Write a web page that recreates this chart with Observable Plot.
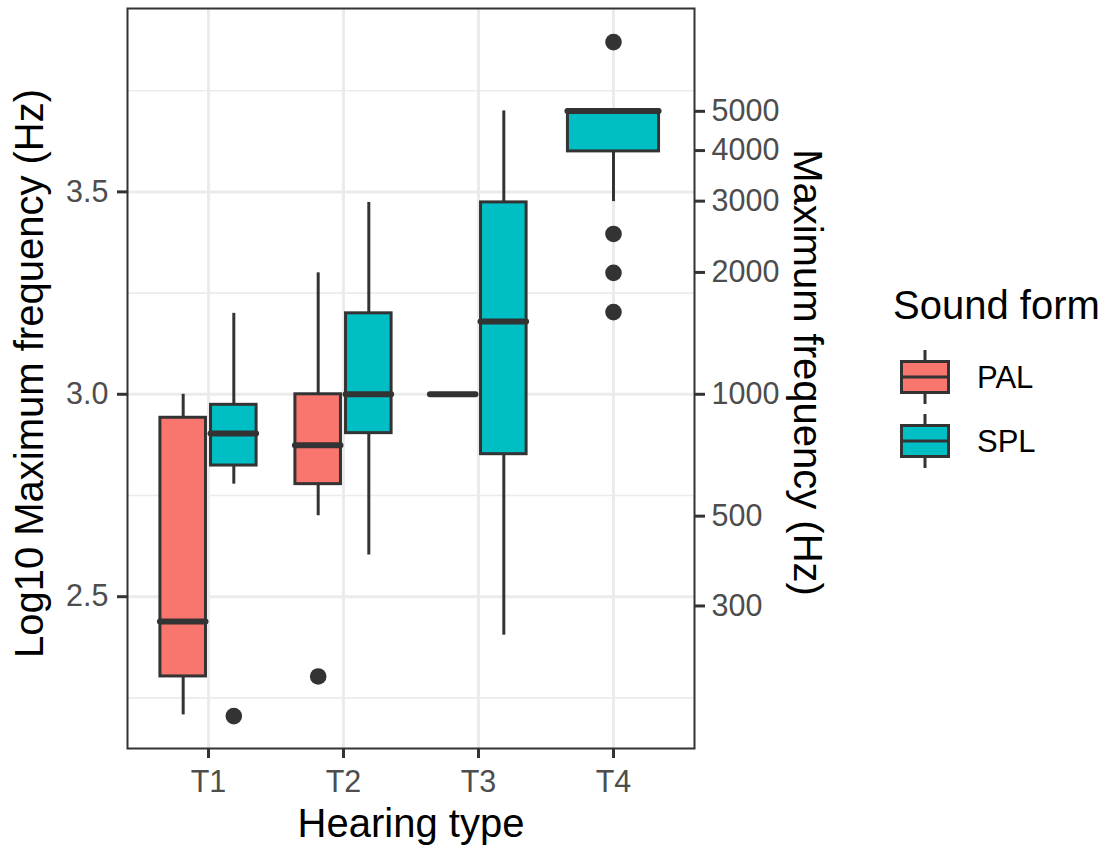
<!DOCTYPE html>
<html><head><meta charset="utf-8">
<script src="https://cdn.jsdelivr.net/npm/d3@7"></script>
<script src="https://cdn.jsdelivr.net/npm/@observablehq/plot@0.6"></script>
<style>
body{margin:0;background:#fff;}
#wrap{position:relative;width:1109px;height:852px;font-family:"Liberation Sans",Arial,Helvetica,sans-serif;}
#wrap svg.legend{position:absolute;left:0;top:0;pointer-events:none;}
</style></head><body><div id="wrap"></div>
<script>
// ---- data ----
const categories = ["T1","T2","T3","T4"];
const soundForms = ["PAL","SPL"];
const formColors = ["#F8766D","#00BFC4"];
const boxType = ["T1","T1","T2","T2","T3","T3","T4"];
const boxForm = ["PAL","SPL","PAL","SPL","PAL","SPL","SPL"];
const whiskerLow  = [2.208,2.778,2.700,2.603,3.000,2.405,3.476];
const q1          = [2.303,2.824,2.778,2.904,3.000,2.852,3.600];
const median      = [2.439,2.903,2.874,3.000,3.000,3.180,3.700];
const q3          = [2.942,2.974,3.000,3.200,3.000,3.474,3.700];
const whiskerHigh = [3.000,3.200,3.300,3.474,3.000,3.700,3.700];
const outlierType  = ["T1","T2","T4","T4","T4","T4"];
const outlierForm  = ["SPL","PAL","SPL","SPL","SPL","SPL"];
const outlierValue = [2.205,2.303,3.870,3.396,3.300,3.203];
const leftTicks  = [2.5,3.0,3.5];
const minorTicks = [2.25,2.75,3.25,3.75];
const rightTicks = [300,500,1000,2000,3000,4000,5000];
const xTitle = "Hearing type";
const yTitle = "Log10 Maximum frequency (Hz)";
const y2Title = "Maximum frequency (Hz)";
const legendTitle = "Sound form";

// ---- dodge layout (ggplot-like) ----
const dodgeTotal = 0.75, dodgePad = 0.1;
function place(type, form) {
  const present = soundForms.filter(f => boxType.some((t, i) => t === type && boxForm[i] === f));
  const slot = dodgeTotal / present.length;
  const k = present.indexOf(form);
  const center = categories.indexOf(type) + 1 - dodgeTotal / 2 + slot * (k + 0.5);
  return {center, half: slot * (1 - dodgePad) / 2};
}
const boxes = boxType.map((t, i) => {
  const p = place(t, boxForm[i]);
  return {type: t, form: boxForm[i], center: p.center, x1: p.center - p.half, x2: p.center + p.half,
    lo: whiskerLow[i], q1: q1[i], med: median[i], q3: q3[i], hi: whiskerHigh[i]};
});
const outliers = outlierType.map((t, i) => ({type: t, form: outlierForm[i], center: place(t, outlierForm[i]).center, value: outlierValue[i]}));

const dark = "#333333", tickText = "#4D4D4D", grid = "#EBEBEB";
const font = "Liberation Sans, Arial, Helvetica, sans-serif";
const lw = 3;

const plot = Plot.plot({
  width: 1109, height: 852,
  marginLeft: 127, marginRight: 415, marginTop: 8, marginBottom: 104,
  style: {fontFamily: font, background: "transparent", color: "black"},
  x: {type: "linear", domain: [0.4, 4.6], axis: null},
  y: {domain: [2.125, 3.953], axis: null},
  color: {domain: soundForms, range: formColors},
  marks: [
    Plot.gridY(minorTicks, {stroke: grid, strokeOpacity: 1, strokeWidth: 1.6}),
    Plot.gridY(leftTicks, {stroke: grid, strokeOpacity: 1, strokeWidth: 3}),
    Plot.gridX(categories.map((c, i) => i + 1), {stroke: grid, strokeOpacity: 1, strokeWidth: 3}),
    Plot.ruleX(boxes, {x: "center", y1: "lo", y2: "q1", stroke: dark, strokeWidth: lw}),
    Plot.ruleX(boxes, {x: "center", y1: "q3", y2: "hi", stroke: dark, strokeWidth: lw}),
    Plot.rect(boxes, {x1: "x1", x2: "x2", y1: "q1", y2: "q3", fill: "form", stroke: dark, strokeWidth: lw}),
    Plot.ruleY(boxes, {y: "med", x1: "x1", x2: "x2", stroke: dark, strokeWidth: 6, strokeLinecap: "round"}),
    Plot.dot(outliers, {x: "center", y: "value", r: 8.3, fill: dark, stroke: null}),
    Plot.frame({stroke: dark, strokeWidth: 2}),
    Plot.axisY(leftTicks, {anchor: "left", tickSize: 10, tickPadding: 9, tickFormat: d3.format(".1f"),
      fontSize: 30.5, stroke: dark, strokeWidth: lw, color: tickText, label: null}),
    Plot.axisY(rightTicks.map(Math.log10), {anchor: "right", tickSize: 10, tickPadding: 7,
      tickFormat: d => String(Math.round(10 ** d)),
      fontSize: 30.5, stroke: dark, strokeWidth: lw, color: tickText, label: null}),
    Plot.axisX(categories.map((c, i) => i + 1), {anchor: "bottom", tickSize: 10, tickPadding: 12,
      tickFormat: d => categories[d - 1],
      fontSize: 30.5, stroke: dark, strokeWidth: lw, color: tickText, label: null}),
    Plot.text([xTitle], {text: d => d, frameAnchor: "bottom", dy: 76, fontSize: 40, fill: "black",
      textAnchor: "middle", lineAnchor: "middle"}),
    Plot.text([yTitle], {text: d => d, frameAnchor: "left", dx: -97, dy: -5, rotate: -90, fontSize: 40, fill: "black",
      textAnchor: "middle", lineAnchor: "middle"}),
    Plot.text([y2Title], {text: d => d, frameAnchor: "right", dx: 112, dy: -6, rotate: 90, fontSize: 40, fill: "black",
      textAnchor: "middle", lineAnchor: "middle"})
  ]
});
const wrap = document.getElementById("wrap");
wrap.appendChild(plot);

// ---- legend (ggplot boxplot keys) ----
const color = plot.scale("color");
const lg = d3.select(wrap).append("svg").attr("class", "legend")
  .attr("width", 1109).attr("height", 852)
  .style("font-family", font);
lg.append("text").attr("x", 893).attr("y", 319).attr("font-size", 40).attr("fill", "black").text(legendTitle);
soundForms.forEach((f, i) => {
  const cy = 377 + i * 64;
  const g = lg.append("g");
  g.append("line").attr("x1", 925).attr("x2", 925).attr("y1", cy - 27).attr("y2", cy + 27)
    .attr("stroke", dark).attr("stroke-width", lw);
  g.append("rect").attr("x", 901.5).attr("y", cy - 15.5).attr("width", 47).attr("height", 31)
    .attr("fill", color.apply(f)).attr("stroke", dark).attr("stroke-width", lw);
  g.append("line").attr("x1", 901.5).attr("x2", 948.5).attr("y1", cy).attr("y2", cy)
    .attr("stroke", dark).attr("stroke-width", lw);
  g.append("text").attr("x", 977).attr("y", cy).attr("dy", "0.35em").attr("font-size", 31)
    .attr("fill", "black").text(f);
});
</script></body></html>
